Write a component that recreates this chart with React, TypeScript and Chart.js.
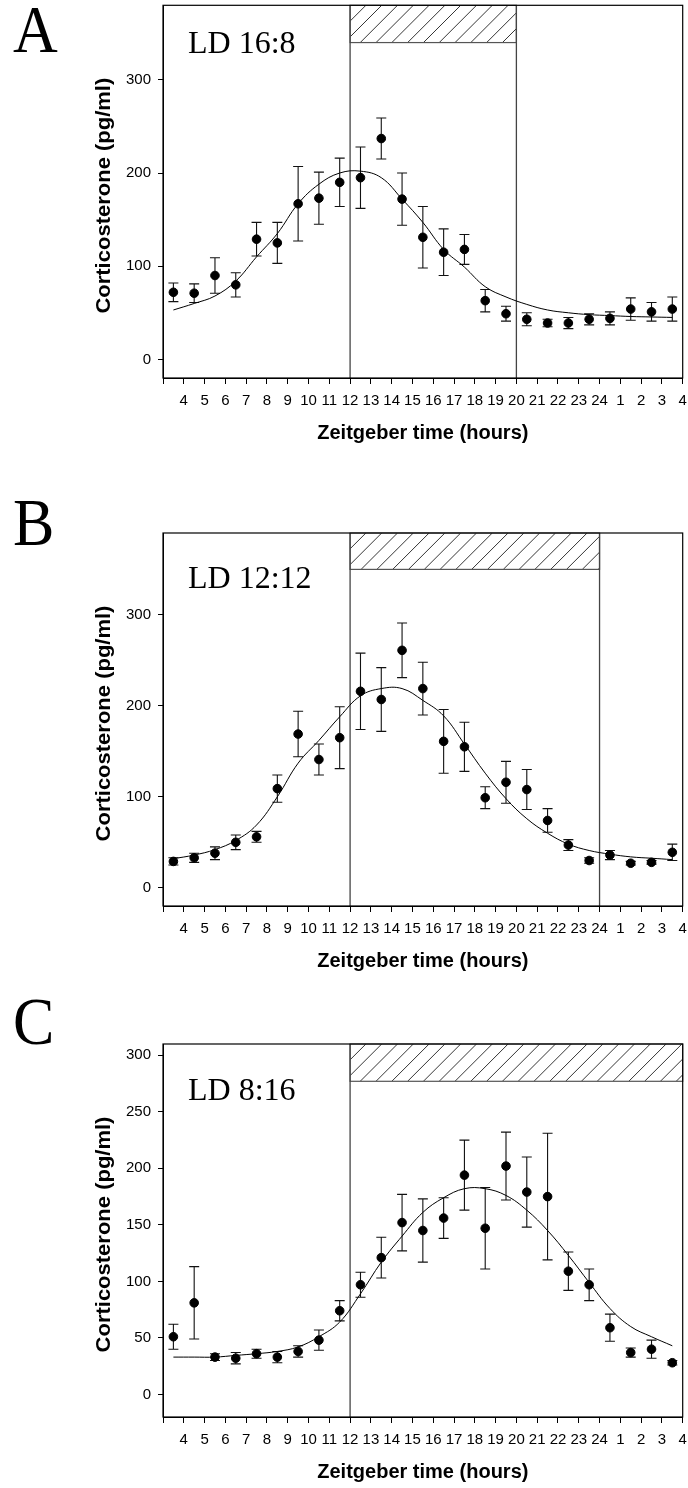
import React, { useEffect, useRef } from 'react';
import { Chart, registerables } from 'chart.js';

Chart.register(...registerables);

// ---- Data ----
const HOURS = [3.5, 4.5, 5.5, 6.5, 7.5, 8.5, 9.5, 10.5, 11.5, 12.5, 13.5, 14.5, 15.5, 16.5, 17.5, 18.5, 19.5, 20.5, 21.5, 22.5, 23.5, 24.5, 25.5, 26.5, 27.5];
const X_TICKS = [3, 4, 5, 6, 7, 8, 9, 10, 11, 12, 13, 14, 15, 16, 17, 18, 19, 20, 21, 22, 23, 24, 25, 26, 27, 28];

const A_MEAN = [72, 71, 90, 80, 129, 125, 167, 173, 190, 195, 237, 172, 131, 115, 118, 63, 49, 43, 39, 39, 43, 44, 54, 51, 54];
const A_SEM = [10, 10, 19, 13, 18, 22, 40, 28, 26, 33, 22, 28, 33, 25, 16, 12, 8, 7, 4, 6, 6, 7, 12, 10, 13];
const A_FIT = [53, 60, 68, 84, 110, 135, 167, 188, 200, 202, 195, 172, 147, 118, 99, 78, 67, 59, 53, 50, 48, 47, 46, 45.5, 45];

const B_MEAN = [29, 33, 38, 50, 56, 109, 169, 141, 165, 216, 207, 261, 219, 161, 155, 99, 116, 108, 74, 47, 30, 36, 27, 28, 39];
const B_SEM = [4, 5, 7, 8, 6, 15, 25, 17, 34, 42, 35, 30, 29, 35, 27, 12, 23, 22, 13, 6, 3, 5, 2, 2, 9];
const B_FIT = [32, 36, 42, 52, 69, 100, 137, 162, 188, 211, 219, 219, 206, 189, 158, 126, 98, 76, 60, 48, 41, 37, 34, 32.5, 31];

const C_MEAN = [51, 81, 33, 32, 36, 33, 38, 48, 74, 97, 121, 152, 145, 156, 194, 147, 202, 179, 175, 109, 97, 59, 37, 40, 28];
const C_SEM = [11, 32, 3, 5, 4, 5, 5, 9, 9, 11, 18, 25, 28, 18, 31, 36, 30, 31, 56, 17, 14, 12, 4, 8, 2];
const C_FIT = [33, 33, 33, 34.5, 36, 38, 42, 51, 64, 89, 117, 140, 161, 174, 182, 182, 176, 163, 145, 123, 99, 76, 60, 51, 43];

const AB_Y_TICKS = [0, 100, 200, 300];
const C_Y_TICKS = [0, 50, 100, 150, 200, 250, 300];

const SANS = "'Liberation Sans', Arial, sans-serif";
const SERIF = "'Liberation Serif', 'Times New Roman', serif";

type PanelCfg = {
  letter: string;
  ld: string;
  mean: number[];
  sem: number[];
  fit: number[];
  yMin: number;
  yMax: number;
  yTicks: number[];
  boxBottom: number;
  boxStart: number;
  boxEnd: number;
  vlines: number[];
  top: number;
  height: number;
  plotTop: number;
  plotH: number;
  letterBase: number;
  ldBase: number;
};

const PANELS: PanelCfg[] = [
  {
    letter: 'A', ld: 'LD 16:8', mean: A_MEAN, sem: A_SEM, fit: A_FIT,
    yMin: -20, yMax: 380, yTicks: AB_Y_TICKS, boxBottom: 340, boxStart: 12, boxEnd: 20, vlines: [12, 20],
    top: 0, height: 470, plotTop: 4, plotH: 374, letterBase: 52, ldBase: 53,
  },
  {
    letter: 'B', ld: 'LD 12:12', mean: B_MEAN, sem: B_SEM, fit: B_FIT,
    yMin: -20, yMax: 390, yTicks: AB_Y_TICKS, boxBottom: 350, boxStart: 12, boxEnd: 24, vlines: [12, 24],
    top: 470, height: 510, plotTop: 63, plotH: 373, letterBase: 75, ldBase: 118,
  },
  {
    letter: 'C', ld: 'LD 8:16', mean: C_MEAN, sem: C_SEM, fit: C_FIT,
    yMin: -20, yMax: 310, yTicks: C_Y_TICKS, boxBottom: 277, boxStart: 12, boxEnd: 28, vlines: [12],
    top: 980, height: 508, plotTop: 64, plotH: 373, letterBase: 64, ldBase: 120,
  },
];

function makeDecor(cfg: PanelCfg) {
  return {
    id: 'decor' + cfg.letter,
    beforeDatasetsDraw(chart: any) {
      const { ctx, chartArea } = chart;
      const xs = chart.scales.x;
      const ys = chart.scales.y;
      ctx.save();
      const bx0 = xs.getPixelForValue(cfg.boxStart);
      const bx1 = xs.getPixelForValue(cfg.boxEnd);
      const by0 = chartArea.top;
      const by1 = ys.getPixelForValue(cfg.boxBottom);
      ctx.fillStyle = '#fff';
      ctx.fillRect(bx0, by0, bx1 - bx0, by1 - by0);
      ctx.save();
      ctx.beginPath();
      ctx.rect(bx0, by0, bx1 - bx0, by1 - by0);
      ctx.clip();
      ctx.strokeStyle = '#000';
      ctx.lineWidth = 0.8;
      const h = by1 - by0;
      const step = 15.8;
      for (let x = bx0 - h; x < bx1 + h; x += step) {
        ctx.beginPath();
        ctx.moveTo(x, by1);
        ctx.lineTo(x + h, by0);
        ctx.stroke();
      }
      ctx.restore();
      ctx.strokeStyle = '#555';
      ctx.lineWidth = 1.2;
      ctx.strokeRect(bx0, by0, bx1 - bx0, by1 - by0);
      ctx.strokeStyle = '#444';
      ctx.lineWidth = 1.3;
      cfg.vlines.forEach((v) => {
        const px = xs.getPixelForValue(v);
        ctx.beginPath();
        ctx.moveTo(px, chartArea.top);
        ctx.lineTo(px, chartArea.bottom);
        ctx.stroke();
      });
      ctx.strokeStyle = '#111';
      ctx.lineWidth = 1.1;
      HOURS.forEach((hh, i) => {
        const px = xs.getPixelForValue(hh);
        const yTop = ys.getPixelForValue(cfg.mean[i] + cfg.sem[i]);
        const yBot = ys.getPixelForValue(cfg.mean[i] - cfg.sem[i]);
        ctx.beginPath();
        ctx.moveTo(px, yTop);
        ctx.lineTo(px, yBot);
        ctx.moveTo(px - 5, yTop);
        ctx.lineTo(px + 5, yTop);
        ctx.moveTo(px - 5, yBot);
        ctx.lineTo(px + 5, yBot);
        ctx.stroke();
      });
      ctx.restore();
    },
    afterDraw(chart: any) {
      const { ctx, chartArea } = chart;
      ctx.save();
      ctx.strokeStyle = '#000';
      ctx.lineWidth = 1.2;
      ctx.strokeRect(chartArea.left, chartArea.top, chartArea.right - chartArea.left, chartArea.bottom - chartArea.top);
      ctx.fillStyle = '#000';
      ctx.font = `32px ${SERIF}`;
      ctx.textAlign = 'left';
      ctx.textBaseline = 'alphabetic';
      ctx.fillText(cfg.ld, 188, cfg.ldBase);
      ctx.save();
      ctx.translate(13, cfg.letterBase);
      ctx.scale(1, 1.08);
      ctx.font = `62px ${SERIF}`;
      ctx.fillText(cfg.letter, 0, 0);
      ctx.restore();
      ctx.save();
      ctx.translate(104, (chartArea.top + chartArea.bottom) / 2 + 4);
      ctx.rotate(-Math.PI / 2);
      ctx.scale(1.1, 1);
      ctx.font = `bold 20px ${SANS}`;
      ctx.textAlign = 'center';
      ctx.textBaseline = 'middle';
      ctx.fillText('Corticosterone (pg/ml)', 0, 0);
      ctx.restore();
      ctx.font = `bold 20px ${SANS}`;
      ctx.textAlign = 'center';
      ctx.textBaseline = 'middle';
      ctx.fillText('Zeitgeber time (hours)', (chartArea.left + chartArea.right) / 2, chartArea.bottom + 55);
      ctx.restore();
    },
  };
}

function Panel({ cfg }: { cfg: PanelCfg }) {
  const ref = useRef<HTMLCanvasElement | null>(null);
  useEffect(() => {
    if (!ref.current) return;
    const chart = new Chart(ref.current, {
      type: 'scatter',
      data: {
        datasets: [
          {
            type: 'line',
            data: HOURS.map((h, i) => ({ x: h, y: cfg.fit[i] })),
            borderColor: '#000',
            borderWidth: 1,
            pointRadius: 0,
            tension: 0.4,
            fill: false,
            order: 2,
          } as any,
          {
            data: HOURS.map((h, i) => ({ x: h, y: cfg.mean[i] })),
            backgroundColor: '#000',
            borderColor: '#000',
            pointRadius: 4.3,
            pointHoverRadius: 4.3,
            order: 1,
          },
        ],
      },
      options: {
        responsive: false,
        animation: false,
        devicePixelRatio: 1,
        events: [],
        layout: { padding: { top: cfg.plotTop, right: 5, left: 0, bottom: 0 } },
        plugins: { legend: { display: false }, tooltip: { enabled: false }, title: { display: false } },
        scales: {
          x: {
            type: 'linear',
            min: 3,
            max: 28,
            afterBuildTicks: (s: any) => {
              s.ticks = X_TICKS.map((v) => ({ value: v }));
            },
            afterFit: (s: any) => {
              s.height = cfg.height - cfg.plotTop - cfg.plotH;
              s.paddingLeft = 0;
              s.paddingRight = 0;
              s.paddingTop = 0;
              s.paddingBottom = 0;
            },
            ticks: {
              autoSkip: false,
              maxRotation: 0,
              minRotation: 0,
              padding: 8,
              color: '#000',
              font: { family: SANS, size: 15 },
              callback: (v: any) => (v === 3 ? '' : v <= 24 ? String(v) : String(v - 24)),
            },
            grid: { display: true, drawOnChartArea: false, drawTicks: true, tickLength: 6, color: '#000' },
            border: { display: true, color: '#000' },
          },
          y: {
            type: 'linear',
            min: cfg.yMin,
            max: cfg.yMax,
            afterBuildTicks: (s: any) => {
              s.ticks = cfg.yTicks.map((v) => ({ value: v }));
            },
            afterFit: (s: any) => {
              s.width = 163;
              s.paddingLeft = 0;
              s.paddingRight = 0;
              s.paddingTop = 0;
              s.paddingBottom = 0;
            },
            ticks: {
              padding: 7,
              color: '#000',
              font: { family: SANS, size: 15 },
            },
            grid: { display: true, drawOnChartArea: false, drawTicks: true, tickLength: 5, color: '#000' },
            border: { display: true, color: '#000' },
          },
        },
      } as any,
      plugins: [makeDecor(cfg)],
    });
    return () => chart.destroy();
  }, [cfg]);
  return (
    <canvas
      ref={ref}
      width={688}
      height={cfg.height}
      style={{ position: 'absolute', left: 0, top: cfg.top, width: 688, height: cfg.height }}
    />
  );
}

export default function App() {
  return (
    <div style={{ position: 'absolute', left: 0, top: 0, width: 688, height: 1488, background: '#fff', overflow: 'hidden' }}>
      {PANELS.map((p) => (
        <Panel key={p.letter} cfg={p} />
      ))}
    </div>
  );
}
